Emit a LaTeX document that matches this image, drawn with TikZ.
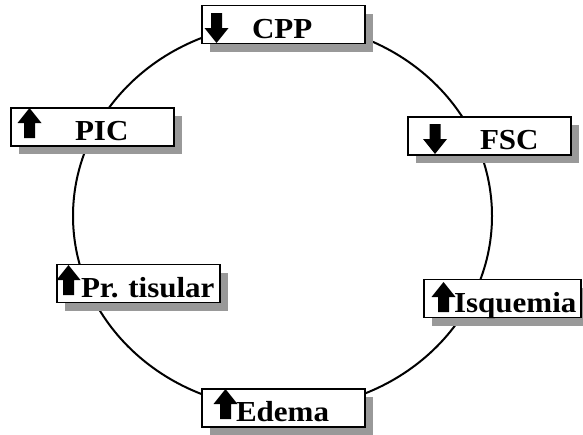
\documentclass[tikz,border=0pt]{standalone}
\usepackage{fontspec}
\newfontfamily\tagfont{Liberation Serif}[FakeStretch=1.07]
\usepackage{tikz}
\usetikzlibrary {
  shadows,
}
\tikzset{
  caja/.style = {
    rectangle,
    draw = black,
    fill = white,
    line width = 1.2pt,
    text width = #1,
    text height = 27.5pt,
    text depth = 0pt,
    inner xsep = 0pt,
    inner ysep = 0pt,
    minimum height = 38pt,
    align = left,
    font = \tagfont\bfseries\fontsize{29}{31}\selectfont,
    drop shadow = {shadow xshift = 8pt, shadow yshift = -8pt,
      fill = gray!80, opacity = 1}
  },
  caja/.default = 163pt,
  ciclo/.style = {
    line width = 2pt
  },
  sube/.pic = {
    \fill (-5.5,0) -- (-5.5,-15) -- (-12,-15) -- (0,-30) -- (12,-15)
      -- (5.5,-15) -- (5.5,0) -- cycle;
  },
  baja/.pic = {
    \fill (-5.5,0) -- (-5.5,15) -- (-12,15) -- (0,30) -- (12,15)
      -- (5.5,15) -- (5.5,0) -- cycle;
  },
}

\begin{document}
\begin{tikzpicture}[x = 1pt, y = -1pt]
  \useasboundingbox (0,0) rectangle (583,434);
  % ciclo
  \coordinate (O) at (282.5,216);
  \draw[ciclo] (O) ellipse [x radius = 209.5pt, y radius = 193pt];
  % cajas
  \node[caja] (cpp) at (283.5,24.5) {\hspace*{50pt}CPP};
  \node[caja] (fsc) at (489.5,136) {\hspace*{72pt}FSC};
  \node[caja = 157pt] (isq) at (502.5,298.5) {\hspace*{30pt}Isquemia};
  \node[caja] (edema) at (283.5,408) {\hspace*{34pt}Edema};
  \node[caja] (prt) at (138.5,283.5) {\hspace*{24pt}Pr.\ tisular};
  \node[caja] (pic) at (92.5,127) {\hspace*{64pt}PIC};
  % flechas
  \pic at (216.5,13) {baja};
  \pic at (435,124) {baja};
  \pic at (443.5,312) {sube};
  \pic at (225.5,419) {sube};
  \pic at (68.5,295) {sube};
  \pic at (29.5,138) {sube};
\end{tikzpicture}
\end{document}
